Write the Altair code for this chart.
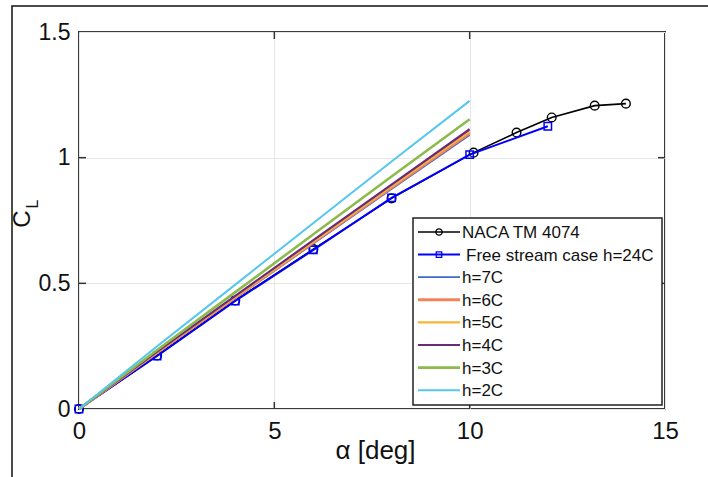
import altair as alt
import pandas as pd

# ---------------- data ----------------
alpha_naca = [0, 2, 4, 6, 8, 10.1, 11.2, 12.1, 13.2, 14.0]
cl_naca = [0, 0.213, 0.432, 0.636, 0.838, 1.02, 1.10, 1.16, 1.207, 1.215]

alpha_fs = [0, 2, 4, 6, 8, 10, 12]
cl_fs = [0, 0.211, 0.43, 0.633, 0.84, 1.012, 1.125]

alpha_h = [0, 2, 4, 6, 8, 10]
cl_h7 = [0, 0.224, 0.441, 0.658, 0.875, 1.090]
cl_h6 = [0, 0.225, 0.444, 0.663, 0.881, 1.098]
cl_h5 = [0, 0.226, 0.446, 0.666, 0.886, 1.105]
cl_h4 = [0, 0.228, 0.450, 0.672, 0.893, 1.113]
cl_h3 = [0, 0.235, 0.465, 0.695, 0.925, 1.153]
cl_h2 = [0, 0.250, 0.495, 0.740, 0.985, 1.226]

labels = ["NACA TM 4074", "Free stream case h=24C", "h=7C", "h=6C",
          "h=5C", "h=4C", "h=3C", "h=2C"]
x_ticks = [0, 5, 10, 15]
y_ticks = [0, 0.5, 1, 1.5]

# ---------------- styles ----------------
W, H = 586, 377
FONT = "Liberation Sans, Arial, sans-serif"
colors = ["#000000", "#0000FF", "#4169C8", "#F4825A", "#F5B53A",
          "#6A2A7C", "#8CBB4C", "#55C6F0"]
widths = [1.6, 2.0, 1.8, 3.0, 2.2, 2.2, 2.6, 2.0]

xscale = alt.Scale(domain=[0, 15], nice=False, zero=False)
yscale = alt.Scale(domain=[0, 1.5], nice=False, zero=False)
xaxis = alt.Axis(values=x_ticks, grid=True, ticks=False, domain=False,
                 labelFontSize=24, labelPadding=10, labelFont=FONT,
                 labelColor="#111", title="α [deg]", titleFont=FONT,
                 titleFontSize=26, titleFontWeight="normal", titleColor="#111",
                 titleY=28, titleBaseline="top", titleX=W / 2 + 3,
                 labelFlush=False)
yaxis = alt.Axis(values=y_ticks, grid=True, ticks=False, domain=False,
                 labelFontSize=23, labelPadding=9, labelFont=FONT,
                 labelColor="#111", labelExpr="datum.value", title="",
                 labelFlush=False)

X = alt.X("a:Q", scale=xscale, axis=xaxis)
Y = alt.Y("cl:Q", scale=yscale, axis=yaxis)

one = pd.DataFrame({"k": [0]})
layers = []

# outer figure border
layers.append(alt.Chart(one).mark_rect(fill=None, stroke="#111", strokeWidth=1.5)
              .encode(x=alt.value(-67), x2=alt.value(W + 100), y=alt.value(-26), y2=alt.value(H + 100)))

# inward ticks
tx = pd.DataFrame({"a": [5, 10]})
ty = pd.DataFrame({"cl": [0.5, 1]})
layers.append(alt.Chart(tx).mark_rule(color="#333", strokeWidth=1.5)
              .encode(x=X, y=alt.value(H), y2=alt.value(H - 7)))
layers.append(alt.Chart(tx).mark_rule(color="#333", strokeWidth=1.5)
              .encode(x=X, y=alt.value(0), y2=alt.value(7)))
layers.append(alt.Chart(ty).mark_rule(color="#333", strokeWidth=1.5)
              .encode(y=Y, x=alt.value(0), x2=alt.value(7)))
layers.append(alt.Chart(ty).mark_rule(color="#333", strokeWidth=1.5)
              .encode(y=Y, x=alt.value(W), x2=alt.value(W - 7)))

# data series
naca = pd.DataFrame({"a": alpha_naca, "cl": cl_naca})
fs = pd.DataFrame({"a": alpha_fs, "cl": cl_fs})
h_series = [cl_h7, cl_h6, cl_h5, cl_h4, cl_h3, cl_h2]

layers.append(alt.Chart(naca).mark_line(color=colors[0], strokeWidth=widths[0]).encode(x=X, y=Y))
layers.append(alt.Chart(naca).mark_point(shape="circle", size=75, filled=False,
                                         color=colors[0], strokeWidth=1.4, opacity=1).encode(x=X, y=Y))
layers.append(alt.Chart(fs).mark_line(color=colors[1], strokeWidth=widths[1]).encode(x=X, y=Y))
layers.append(alt.Chart(fs).mark_point(shape="square", size=55, filled=False,
                                       color=colors[1], strokeWidth=1.5, opacity=1).encode(x=X, y=Y))
for i, vals in enumerate(h_series):
    df = pd.DataFrame({"a": alpha_h, "cl": vals})
    layers.append(alt.Chart(df).mark_line(color=colors[i + 2], strokeWidth=widths[i + 2]).encode(x=X, y=Y))

# y-axis title C_L
layers.append(alt.Chart(one).mark_text(text="C", angle=270, font=FONT, fontSize=24,
                                       color="#111", align="center", baseline="middle")
              .encode(x=alt.value(-56), y=alt.value(187)))
layers.append(alt.Chart(one).mark_text(text="L", angle=270, font=FONT, fontSize=16,
                                       color="#111", align="center", baseline="middle")
              .encode(x=alt.value(-46), y=alt.value(172)))

# legend (manual)
LX0, LX1, LY0, LY1 = 334, 583, 186, 373
layers.append(alt.Chart(one).mark_rect(fill="white", stroke="#222", strokeWidth=1.5)
              .encode(x=alt.value(LX0), x2=alt.value(LX1), y=alt.value(LY0), y2=alt.value(LY1)))
row0, step = 200, 22.6
for i, lab in enumerate(labels):
    ry = row0 + i * step
    layers.append(alt.Chart(one).mark_rule(color=colors[i], strokeWidth=widths[i])
                  .encode(x=alt.value(339), x2=alt.value(381), y=alt.value(ry)))
    if i == 0:
        layers.append(alt.Chart(one).mark_point(shape="circle", size=40, filled=False,
                                                color=colors[0], strokeWidth=1.3, opacity=1)
                      .encode(x=alt.value(360), y=alt.value(ry)))
    if i == 1:
        layers.append(alt.Chart(one).mark_point(shape="square", size=30, filled=False,
                                                color=colors[1], strokeWidth=1.3, opacity=1)
                      .encode(x=alt.value(360), y=alt.value(ry)))
    layers.append(alt.Chart(one).mark_text(text=lab, font=FONT, fontSize=17, color="#111",
                                           align="left", baseline="middle")
                  .encode(x=alt.value(383 + (4 if i == 1 else 0)), y=alt.value(ry + 1)))

chart = alt.layer(*layers).properties(
    width=W, height=H,
    autosize=alt.AutoSizeParams(type="none"),
    padding={"left": 79, "top": 32, "right": 43, "bottom": 68},
    background="white",
).configure_view(stroke="#3a3a3a", strokeWidth=2).configure_axis(
    gridColor="#e6e6e6", gridWidth=1
)

chart.save("out.html", embed_options={"renderer": "svg", "actions": False})
